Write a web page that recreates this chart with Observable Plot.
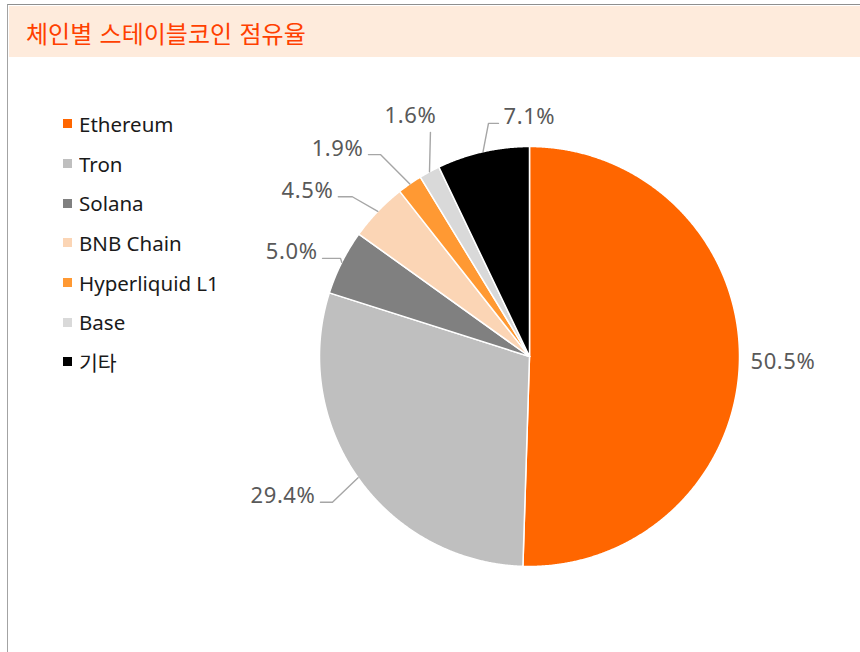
<!DOCTYPE html>
<html>
<head>
<meta charset="utf-8">
<script src="https://cdn.jsdelivr.net/npm/d3@7"></script>
<script src="https://cdn.jsdelivr.net/npm/@observablehq/plot@0.6"></script>
<style>
  body { margin: 0; background: #fff; }
  #wrap { position: relative; width: 860px; height: 652px; overflow: hidden; background: #fff;
          font-family: "Noto Sans", "Noto Sans CJK KR", sans-serif; }
  #frame { position: absolute; left: 7px; top: 4px; width: 900px; height: 700px;
           border-left: 1.5px solid #a3a3a3; border-top: 1.5px solid #8f8f8f; box-sizing: border-box; }
  #title { position: absolute; left: 9px; top: 6px; width: 851px; height: 51px; background: #FEEBDC;
           color: #FF4000; font-family: "Noto Sans CJK KR", sans-serif; font-size: 24px; line-height: 53px;
           padding-left: 17px; box-sizing: border-box; white-space: nowrap; word-spacing: 2px; }
  #chart { position: absolute; left: 0; top: 0; }
  #chart svg text { letter-spacing: 0.6px; }
  #legend { position: absolute; left: 63px; top: 104px; }
  #legend .lg-swatches { margin: 0 !important; font-family: "Noto Sans", "Noto Sans CJK KR", sans-serif !important;
                         font-size: 20.5px !important; color: #1a1a1a !important; columns: auto !important; min-height: 0 !important; }
  #legend .lg-swatch { height: 39.7px !important; padding: 0 !important; margin: 0 !important; display: flex !important; align-items: center !important; }
  #legend .lg-swatch svg { margin-right: 7px !important; }
  #legend .lg-swatch::before { content: none !important; }
</style>
</head>
<body>
<div id="wrap">
  <div id="frame"></div>
  <div id="title">체인별 스테이블코인 점유율</div>
  <div id="chart"></div>
  <div id="legend"></div>
</div>
<script>
// ---- data ----
const chains = ["Ethereum", "Tron", "Solana", "BNB Chain", "Hyperliquid L1", "Base", "기타"];
const shares = [50.5, 29.4, 5.0, 4.5, 1.9, 1.6, 7.1];
const colors = ["#FF6600", "#BFBFBF", "#808080", "#FBD5B5", "#FF9933", "#D9D9D9", "#000000"];
const labels = shares.map(v => v.toFixed(1) + "%");

// ---- label layout (data-label placement, like the spreadsheet's best-fit) ----
const labelSide   = ["right", "left", "left", "left", "left", "up", "right"];
const labelRadius = [1.0, 1.167, 1.014, 1.136, 1.195, 1.167, 1.127]; // × pie radius
const labelTurn   = [0, -1.2, 0.8, -1.7, -1.7, 4.6, 2.8];            // degrees
const labelArm    = [0, 12, 18, 14, 12, 0, 10];                      // px, horizontal leader
const textDx      = [11, -5, -5, -5, -5, -20, 5];                    // px
const textLift    = [-2, 6, 6, 6, 6, 16, 6];                         // px

const W = 860, H = 652;
const mLeft = 319, mRight = 121, mTop = 146, mBottom = 86;
const PX = (W - mLeft - mRight) / 2; // pixels per data unit

const arcs = d3.pie().sort(null).value(d => d)(shares);

const slicePts = [];
arcs.forEach((a, i) => {
  slicePts.push({name: chains[i], x: 0, y: 0});
  const n = Math.max(2, Math.ceil((a.endAngle - a.startAngle) / (Math.PI / 720)));
  for (let k = 0; k <= n; k++) {
    const t = a.startAngle + (a.endAngle - a.startAngle) * k / n;
    slicePts.push({name: chains[i], x: Math.sin(t), y: Math.cos(t)});
  }
  slicePts.push({name: chains[i], x: 0, y: 0});
});

const leaderPts = [];
const labelPts = [];
arcs.forEach((a, i) => {
  const m = (a.startAngle + a.endAngle) / 2;
  const E = {x: Math.sin(m), y: Math.cos(m)};
  const t = m + labelTurn[i] * Math.PI / 180;
  const P = {x: labelRadius[i] * Math.sin(t), y: labelRadius[i] * Math.cos(t)};
  const s = labelSide[i] === "left" ? -1 : labelSide[i] === "right" ? 1 : 0;
  const Hh = {x: P.x + s * labelArm[i] / PX, y: P.y};
  if (labelRadius[i] > 1.0) {
    leaderPts.push({name: chains[i], ...E}, {name: chains[i], ...P}, {name: chains[i], ...Hh});
  }
  labelPts.push({
    name: chains[i], label: labels[i], side: labelSide[i],
    x: Hh.x + textDx[i] / PX, y: Hh.y + textLift[i] / PX
  });
});

const textStyle = {text: "label", x: "x", y: "y", fontSize: 22, fill: "#595959",
                   fontFamily: "Noto Sans, sans-serif"};

const chart = Plot.plot({
  width: W, height: H,
  marginLeft: mLeft, marginRight: mRight, marginTop: mTop, marginBottom: mBottom,
  x: {domain: [-1, 1], axis: null},
  y: {domain: [-1, 1], axis: null},
  color: {domain: chains, range: colors},
  style: {background: "transparent", overflow: "visible"},
  marks: [
    Plot.line(slicePts, {x: "x", y: "y", z: "name", fill: "name", stroke: "white",
                         strokeWidth: 1.5, strokeLinejoin: "round", curve: "linear"}),
    Plot.line(leaderPts, {x: "x", y: "y", z: "name", stroke: "#A6A6A6", strokeWidth: 1.4}),
    Plot.text(labelPts, {...textStyle, filter: d => d.side === "right", textAnchor: "start"}),
    Plot.text(labelPts, {...textStyle, filter: d => d.side === "left", textAnchor: "end"}),
    Plot.text(labelPts, {...textStyle, filter: d => d.side === "up", textAnchor: "middle"})
  ]
});
document.getElementById("chart").appendChild(chart);

const legend = Plot.legend({
  color: {domain: chains, range: colors, type: "ordinal"},
  columns: 1, swatchSize: 9, className: "lg"
});
document.getElementById("legend").appendChild(legend);
</script>
</body>
</html>
